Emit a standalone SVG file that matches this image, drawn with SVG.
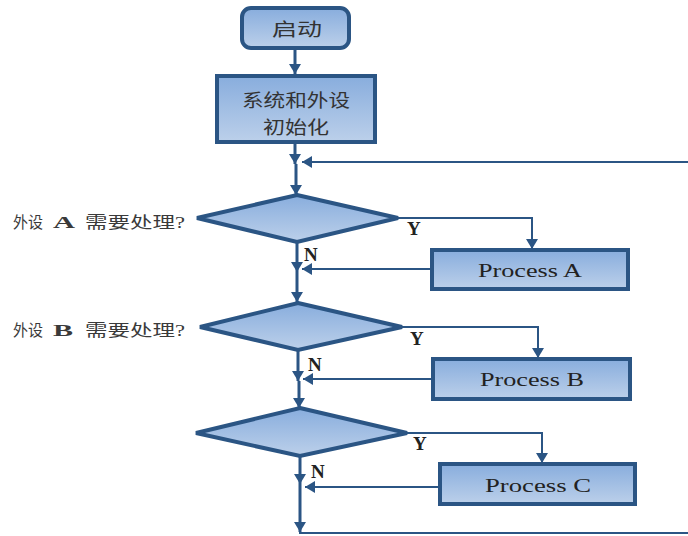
<svg xmlns="http://www.w3.org/2000/svg" width="688" height="536" viewBox="0 0 688 536">
<defs>
<linearGradient id="g" x1="0" y1="0" x2="0" y2="1">
<stop offset="0" stop-color="#88ADDD"/>
<stop offset="1" stop-color="#BCD0EA"/>
</linearGradient>
<marker id="ah" viewBox="0 0 10 12" refX="10" refY="6" markerWidth="10" markerHeight="12" markerUnits="userSpaceOnUse" orient="auto">
<path d="M0,0 L10,6 L0,12 z" fill="#2B5584"/>
</marker>
<style>
.box{fill:url(#g);stroke:#2B5584;stroke-width:4}
.c{fill:none;stroke:#2B5584;stroke-width:2}
.v{fill:none;stroke:#2B5584;stroke-width:3}
.t{font-family:"Liberation Serif","Noto Sans CJK SC",serif;fill:#222}
.cj{font-family:"Noto Sans CJK SC","Liberation Serif",sans-serif;fill:#333}
.lab{font-family:"Liberation Serif","Noto Sans CJK SC",serif;fill:#3a3a3a;font-size:16px}
.yn{font-family:"Liberation Serif",serif;font-weight:bold;font-size:19px;fill:#222}
</style>
</defs>
<rect width="688" height="536" fill="#fff"/>
<g id="connectors">
<line class="v" x1="295" y1="48" x2="295" y2="74" marker-end="url(#ah)"/>
<line class="v" x1="295" y1="142" x2="295" y2="164" marker-end="url(#ah)"/>
<line class="c" x1="688" y1="162" x2="302" y2="162" marker-end="url(#ah)"/>
<line class="v" x1="296" y1="164" x2="296" y2="195" marker-end="url(#ah)"/>
<polyline class="c" points="398,218 532,218 532,249" marker-end="url(#ah)"/>
<line class="v" x1="297" y1="242" x2="297" y2="272" marker-end="url(#ah)"/>
<line class="c" x1="432" y1="269" x2="302" y2="269" marker-end="url(#ah)"/>
<line class="v" x1="297" y1="272" x2="297" y2="302" marker-end="url(#ah)"/>
<polyline class="c" points="402,327 538,327 538,358" marker-end="url(#ah)"/>
<line class="v" x1="298" y1="350" x2="298" y2="381" marker-end="url(#ah)"/>
<line class="c" x1="433" y1="379" x2="303" y2="379" marker-end="url(#ah)"/>
<line class="v" x1="299" y1="381" x2="299" y2="408" marker-end="url(#ah)"/>
<polyline class="c" points="407,433 542,433 542,463" marker-end="url(#ah)"/>
<line class="v" x1="300" y1="456" x2="300" y2="484" marker-end="url(#ah)"/>
<line class="c" x1="439" y1="487" x2="305" y2="487" marker-end="url(#ah)"/>
<line class="v" x1="300" y1="484" x2="300" y2="532" marker-end="url(#ah)"/>
<line class="c" x1="299" y1="533" x2="688" y2="533"/>
</g>
<g id="start">
<rect class="box" x="242" y="8" width="107" height="40" rx="9"/>
<text class="cj" x="272" y="36" font-size="18" textLength="50" lengthAdjust="spacingAndGlyphs">启动</text>
</g>
<g id="init">
<rect class="box" x="217" y="76" width="158" height="66"/>
<text class="cj" x="242" y="107" font-size="18" textLength="108" lengthAdjust="spacingAndGlyphs">系统和外设</text>
<text class="cj" x="263" y="134" font-size="18" textLength="66" lengthAdjust="spacingAndGlyphs">初始化</text>
</g>
<g id="decisionA">
<polygon class="box" points="297,195 398,218 297,242 197,218"/>
<text class="lab" y="228"><tspan x="13" textLength="30" lengthAdjust="spacingAndGlyphs">外设</tspan><tspan x="53" font-weight="bold" font-size="16" textLength="22" lengthAdjust="spacingAndGlyphs">A</tspan><tspan x="85" textLength="100" lengthAdjust="spacingAndGlyphs">需要处理?</tspan></text>
</g>
<g id="processA">
<rect class="box" x="432" y="250" width="196" height="39"/>
<text class="t" x="478" y="277" font-size="19" textLength="104" lengthAdjust="spacingAndGlyphs">Process A</text>
</g>
<g id="decisionB">
<polygon class="box" points="298,303 402,327 298,350 200,327"/>
<text class="lab" y="336"><tspan x="13" textLength="30" lengthAdjust="spacingAndGlyphs">外设</tspan><tspan x="53" font-weight="bold" font-size="16" textLength="20" lengthAdjust="spacingAndGlyphs">B</tspan><tspan x="85" textLength="100" lengthAdjust="spacingAndGlyphs">需要处理?</tspan></text>
</g>
<g id="processB">
<rect class="box" x="433" y="359" width="197" height="40"/>
<text class="t" x="480" y="386" font-size="19" textLength="104" lengthAdjust="spacingAndGlyphs">Process B</text>
</g>
<g id="decisionC">
<polygon class="box" points="300,408 407,433 300,456 196,433"/>
</g>
<g id="processC">
<rect class="box" x="440" y="464" width="195" height="40"/>
<text class="t" x="485" y="492" font-size="19" textLength="106" lengthAdjust="spacingAndGlyphs">Process C</text>
</g>
<g id="labels">
<text class="yn" x="407" y="235">Y</text>
<text class="yn" x="304" y="261">N</text>
<text class="yn" x="410" y="345">Y</text>
<text class="yn" x="308" y="371">N</text>
<text class="yn" x="413" y="450">Y</text>
<text class="yn" x="311" y="478">N</text>
</g>
</svg>
